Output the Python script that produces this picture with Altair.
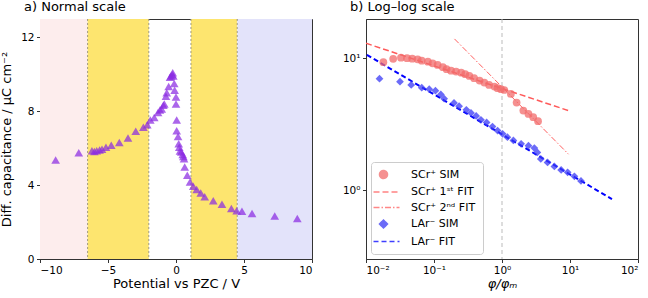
import altair as alt
import pandas as pd

# ---------------- data: panel a ----------------
pot = [-8.85, -7.15, -6.18, -6.0, -5.83, -5.62, -5.44, -5.15, -4.76, -4.17,
       -3.53, -2.96, -2.40, -2.11, -1.89, -1.60, -1.32, -1.18, -1.05, -0.93,
       -0.86, -0.74, -0.68, -0.54, -0.44, -0.37, -0.28, -0.24, -0.20, -0.13,
       -0.10, 0.0, 0.0, 0.05, 0.05, 0.15, 0.20, 0.24, 0.29, 0.39,
       0.49, 0.54, 0.59, 0.64, 0.83, 1.03, 1.27, 1.52, 1.82, 2.11,
       2.74, 3.38, 4.07, 4.46, 4.85, 5.59, 7.26, 8.92]
cap = [5.36, 5.76, 5.86, 5.82, 5.86, 5.90, 5.95, 6.05, 6.16, 6.31,
       6.56, 6.92, 7.13, 7.27, 7.53, 7.67, 7.94, 8.07, 8.12, 8.33,
       8.40, 8.82, 9.01, 9.35, 9.85, 9.91, 10.0, 10.09, 9.91, 9.5,
       9.14, 8.78, 8.39, 7.53, 6.95, 6.63, 6.24, 6.05, 5.85, 5.80,
       5.66, 5.55, 5.43, 4.98, 4.53, 4.17, 3.94, 3.76, 3.58, 3.37,
       3.15, 2.97, 2.74, 2.61, 2.58, 2.47, 2.33, 2.20]

band_start = [-10, -6.5, 1.1, 4.5]
band_end = [-6.5, -2.0, 4.5, 10]
band_kind = ["neg", "mid", "mid", "pos"]
band_edges = [-6.5, -2.0, 1.1, 4.5]

# ---------------- data: panel b ----------------
scr_phi = [0.018, 0.0251, 0.0327, 0.0401, 0.0479, 0.0575, 0.066, 0.0813, 0.0955, 0.113,
           0.135, 0.153, 0.178, 0.211, 0.251, 0.288, 0.331, 0.389, 0.468, 0.55,
           0.646, 0.776, 0.861, 0.966, 1.08, 1.35, 1.64, 2.06, 2.45, 2.88, 3.39]
scr_c = [9.33, 9.89, 10.1, 10.0, 9.93, 9.82, 9.59, 9.42, 9.16, 8.89,
         8.55, 8.26, 8.05, 7.93, 7.78, 7.57, 7.35, 7.06, 6.78, 6.55,
         6.28, 6.10, 5.93, 5.83, 5.75, 5.37, 4.62, 4.02, 3.79, 3.58, 3.34]

lar_phi = [0.0158, 0.0316, 0.0462, 0.066, 0.0851, 0.105, 0.126, 0.141, 0.197, 0.234,
           0.299, 0.35, 0.417, 0.49, 0.594, 0.724, 0.861, 1.02, 1.20, 1.47,
           1.91, 2.45, 2.99, 3.31, 3.72, 4.68, 5.89, 7.41, 9.23, 11.6, 14.5]
lar_c = [7.0, 6.65, 6.28, 5.98, 5.83, 5.68, 5.32, 4.94, 4.59, 4.34,
         4.07, 3.86, 3.66, 3.42, 3.27, 3.04, 2.84, 2.68, 2.53, 2.39,
         2.25, 2.18, 2.09, 1.94, 1.73, 1.63, 1.52, 1.43, 1.37, 1.28, 1.18]

fit1_phi = [0.01, 10.0]
fit1_c = [12.98, 3.98]
fit2_phi = [0.2, 9.5]
fit2_c = [14.0, 1.88]
fitl_phi = [0.0103, 41.4]
fitl_c = [10.6, 0.86]

labels = ["SCr⁺ SIM", "SCr⁺ 1ˢᵗ FIT", "SCr⁺ 2ⁿᵈ FIT", "LAr⁻ SIM", "LAr⁻ FIT"]
colors = ["#f26b6b", "#ff5a5a", "#ff6060", "#3a3af5", "#0000ff"]
shapes = ["circle", "M-2.5,0H4", "M-2.5,0H4", "diamond", "M-2.5,0H4"]
dashes = [[1, 0], [6, 3], [6, 2, 1.5, 2], [1, 0], [5, 3]]

FONT = "DejaVu Sans"
W, H = 272, 240

# ---------------- panel a ----------------
df_a = pd.DataFrame({"pot": pot, "cap": cap})
df_band = pd.DataFrame({"s": band_start, "e": band_end, "k": band_kind})
df_edge = pd.DataFrame({"x": band_edges})

xa = alt.X("pot:Q", scale=alt.Scale(domain=[-10, 10], nice=False),
           axis=alt.Axis(values=[-10, -5, 0, 5, 10], title="Potential vs PZC / V"))
ya = alt.Y("cap:Q", scale=alt.Scale(domain=[0, 13], nice=False),
           axis=alt.Axis(values=[0, 4, 8, 12], title="Diff. capacitance / μC cm⁻²",
                         titlePadding=7))

bands = alt.Chart(df_band).mark_rect().encode(
    x=alt.X("s:Q", scale=alt.Scale(domain=[-10, 10], nice=False)),
    x2="e:Q",
    fill=alt.Fill("k:N", scale=alt.Scale(domain=["neg", "mid", "pos"],
                                         range=["#fdeded", "#fde56f", "#e3e3fa"]),
                  legend=None),
)
edges = alt.Chart(df_edge).mark_rule(color="#a09a80", strokeDash=[2, 2], strokeWidth=1).encode(
    x=alt.X("x:Q", scale=alt.Scale(domain=[-10, 10], nice=False))
)
tri = alt.Chart(df_a).mark_point(shape="triangle-up", filled=True, size=75,
                                 color="#8a2be2", opacity=0.72).encode(x=xa, y=ya)

panel_a = alt.layer(bands, edges, tri).properties(
    width=W, height=H,
    title=alt.TitleParams("a) Normal scale", anchor="start", frame="group", dx=-16,
                          fontSize=13, fontWeight="normal", font=FONT, offset=5),
)

# ---------------- panel b ----------------
pts = pd.concat([
    pd.DataFrame({"phi": scr_phi, "c": scr_c, "series": labels[0]}),
    pd.DataFrame({"phi": lar_phi, "c": lar_c, "series": labels[3]}),
])
df_f1 = pd.DataFrame({"phi": fit1_phi, "c": fit1_c, "series": labels[1]})
df_f2 = pd.DataFrame({"phi": fit2_phi, "c": fit2_c, "series": labels[2]})
df_fl = pd.DataFrame({"phi": fitl_phi, "c": fitl_c, "series": labels[4]})

exp_lab = ("datum.value < 0.05 ? '10⁻²' : datum.value < 0.5 ? '10⁻¹' : "
           "datum.value < 5 ? '10⁰' : datum.value < 50 ? '10¹' : '10²'")
xb = alt.X("phi:Q", scale=alt.Scale(type="log", domain=[0.01, 100], nice=False),
           axis=alt.Axis(values=[0.01, 0.1, 1, 10, 100], labelExpr=exp_lab,
                         title="φ/φₘ", titleFontStyle="italic"))
yb = alt.Y("c:Q", scale=alt.Scale(type="log", domain=[0.303, 19.8], nice=False),
           axis=alt.Axis(values=[1, 10], labelExpr=exp_lab, title=None))

leg = alt.Legend(title=None, orient="bottom-left", offset=5,
                 symbolSize=64, labelFontSize=11, labelFont=FONT,
                 rowPadding=3.5, padding=7, symbolStrokeWidth=1.5,
                 labelOffset=22,
                 strokeColor="#cccccc", fillColor="rgba(255,255,255,0.85)",
                 cornerRadius=3)
color_b = alt.Color("series:N", scale=alt.Scale(domain=labels, range=colors), legend=leg)
shape_b = alt.Shape("series:N", scale=alt.Scale(domain=labels, range=shapes), legend=leg)
dash_b = alt.StrokeDash("series:N", scale=alt.Scale(domain=labels, range=dashes), legend=leg)

vline = alt.Chart(pd.DataFrame({"phi": [1.0]})).mark_rule(
    color="#bbbbbb", strokeDash=[4, 3], strokeWidth=1).encode(
    x=alt.X("phi:Q", scale=alt.Scale(type="log", domain=[0.01, 100], nice=False)))

def fit_layer(df, sw):
    return alt.Chart(df).mark_line(strokeWidth=sw, clip=True).encode(
        x=xb, y=yb, color=color_b, strokeDash=dash_b)

points = alt.Chart(pts).mark_point(filled=True, size=60, opacity=0.75).encode(
    x=xb, y=yb, color=color_b, shape=shape_b)

panel_b = alt.layer(vline, fit_layer(df_f1, 1.5), fit_layer(df_f2, 1.0),
                    fit_layer(df_fl, 2.0), points).properties(
    width=W, height=H,
    title=alt.TitleParams("b) Log–log scale", anchor="start", frame="group", dx=-16,
                          fontSize=13, fontWeight="normal", font=FONT, offset=5),
)

chart = alt.hconcat(panel_a, panel_b, spacing=28).resolve_scale(
    color="independent", fill="independent", shape="independent", strokeDash="independent"
).resolve_legend(
    color="independent", shape="independent", strokeDash="independent"
).properties(
    padding={"left": 0, "top": 0, "right": 0, "bottom": 0}
).configure_view(stroke="#333333", strokeWidth=1).configure_axis(
    labelFont=FONT, titleFont=FONT, labelFontSize=10.5, titleFontSize=13,
    titleFontWeight="normal", labelColor="#000000", titleColor="#000000",
    domainColor="#333333", tickColor="#333333", tickSize=3.5, labelPadding=2.5,
    grid=False, titlePadding=2,
).configure_legend(labelColor="#000000")

chart.save("out.html", embed_options={"renderer": "svg", "actions": False})
